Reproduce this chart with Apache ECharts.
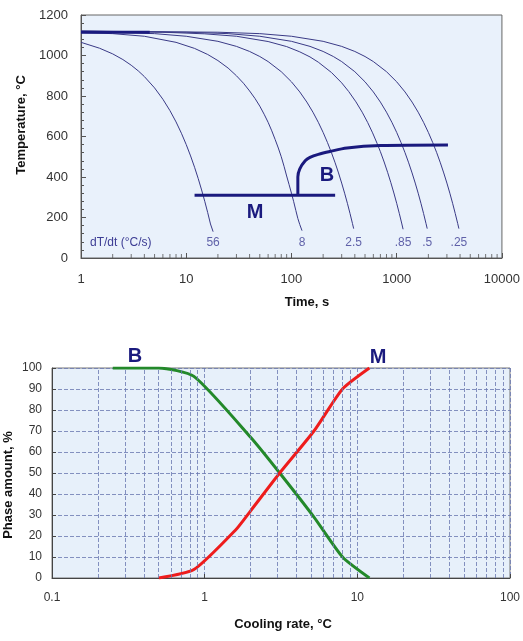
<!DOCTYPE html>
<html>
<head>
<meta charset="utf-8">
<script src="https://cdn.jsdelivr.net/npm/echarts@6/dist/echarts.min.js"></script>
<style>
html, body { margin: 0; padding: 0; background: #fff; }
#main { width: 523px; height: 641px; }
</style>
</head>
<body>
<div id="main"></div>
<script>
// top chart: cooling curves [time s, temperature C]
const curve56 = [[1,1065],[1.5,1036],[2,1008],[2.5,980],[3,952],[3.5,924],[4,896],[5,840],[6,784],[7,728],[8,672],[9,616],[10,560],[11,504],[12,448],[13,392],[14,336],[15,280],[16,224],[17,168],[18,130]];
const curve8 = [[1,1113],[2,1108],[4,1095],[8,1065],[12,1035],[16,1005],[20,975],[25,938],[30,900],[35,863],[40,825],[45,788],[50,750],[55,710],[60,670],[65,628],[70,585],[75,543],[80,500],[85,453],[90,405],[95,362],[100,320],[105,278],[110,235],[115,195],[120,165],[126,135]];
const curve2_5 = [[1,1118],[2,1115],[5,1108],[10,1095],[20,1070],[30,1045],[40,1020],[50,995],[60,970],[80,920],[100,870],[120,820],[140,770],[160,720],[180,670],[200,620],[220,570],[240,520],[260,470],[280,420],[300,370],[320,320],[340,270],[360,220],[380,170],[390,145]];
const curve085 = [[1,1120],[6,1115],[15,1107],[30,1095],[60,1069],[90,1044],[120,1018],[150,993],[180,967],[240,916],[300,865],[350,822],[410,771],[470,720],[530,669],[590,618],[650,567],[700,525],[760,474],[820,423],[880,372],[940,321],[1000,270],[1060,219],[1120,168],[1150,142]];
const curve05 = [[1,1120],[10,1115],[25,1108],[50,1095],[100,1070],[150,1045],[200,1020],[250,995],[300,970],[400,920],[500,870],[600,820],[700,770],[800,720],[900,670],[1000,620],[1100,570],[1200,520],[1300,470],[1400,420],[1500,370],[1600,320],[1700,270],[1800,220],[1900,170],[1950,145]];
const curve025 = [[1,1120],[20,1115],[50,1108],[100,1095],[200,1070],[300,1045],[400,1020],[500,995],[600,970],[800,920],[1000,870],[1200,820],[1400,770],[1600,720],[1800,670],[2000,620],[2200,570],[2400,520],[2600,470],[2800,420],[3000,370],[3200,320],[3400,270],[3600,220],[3800,170],[3900,145]];
const rateNames = ['56', '8', '2.5', '.85', '.5', '.25'];
const austLine = [[1,1115],[4.5,1115]];
const mStart = [[12,310],[260,310]];
const bStart = [[115,310],[115,400],[120,440],[135,480],[150,497],[180,512],[232,526],[337,543],[700,555],[3070,558]];
const minorTimes = [2,3,4,5,6,7,8,9,20,30,40,50,60,70,80,90,200,300,400,500,600,700,800,900,2000,3000,4000,5000,6000,7000,8000,9000];

// bottom chart: phase amount vs cooling rate
const bRate = [0.25, 0.5, 0.85, 2.0, 3.1, 5.2, 8, 12];
const bPct = [100, 100, 96, 67, 50, 29, 10, 0];
const mRate = [0.5, 0.85, 1.6, 2.0, 3.1, 5.2, 8, 12];
const mPct = [0, 4, 23, 32, 50, 70, 90, 100];
const minorRates = [0.2,0.3,0.4,0.5,0.6,0.7,0.8,0.9,2,3,4,5,6,7,8,9,20,30,40,50,60,70,80,90];

const font = 'Liberation Sans, Arial, sans-serif';
const navy = '#1a1a7e';
const thin = '#3a3a86';
const gridDash = '#6a78b0';
const plain = function (v) { return String(v); };

const curves = [curve56, curve8, curve2_5, curve085, curve05, curve025];

const series = [];
curves.forEach(function (c, i) {
    series.push({
        name: rateNames[i], type: 'line', xAxisIndex: 0, yAxisIndex: 0,
        data: c, showSymbol: false,
        lineStyle: { color: thin, width: 1 }
    });
});
[austLine, mStart, bStart].forEach(function (c) {
    series.push({
        type: 'line', xAxisIndex: 0, yAxisIndex: 0, data: c,
        showSymbol: false, smooth: 0.3,
        lineStyle: { color: navy, width: 3 }
    });
});
// rate labels under each curve end
series.push({
    type: 'scatter', xAxisIndex: 0, yAxisIndex: 0, symbolSize: 0,
    data: curves.map(function (c, i) { return { value: [c[c.length - 1][0], 75], name: rateNames[i] }; }),
    label: { show: true, position: 'inside', formatter: '{b}', color: '#3c3c94', fontSize: 12, fontFamily: font }
});
// minor ticks on the log time axis
series.push({
    type: 'scatter', xAxisIndex: 0, yAxisIndex: 0, symbol: 'rect',
    symbolSize: [1, 4], symbolOffset: [0, -2],
    itemStyle: { color: '#555' },
    data: minorTimes.map(function (t) { return [t, 0]; })
});
// dashed minor grid lines of the bottom chart
series.push({
    type: 'line', xAxisIndex: 1, yAxisIndex: 1, data: [],
    markLine: {
        silent: true, symbol: 'none', label: { show: false },
        lineStyle: { type: 'dashed', color: gridDash, width: 1, opacity: 0.8 },
        data: minorRates.map(function (r) { return { xAxis: r }; })
    }
});
series.push({
    name: 'B', type: 'line', xAxisIndex: 1, yAxisIndex: 1,
    data: bRate.map(function (r, i) { return [r, bPct[i]]; }),
    showSymbol: false, smooth: 0.2,
    lineStyle: { color: '#23892a', width: 3 }
});
series.push({
    name: 'M', type: 'line', xAxisIndex: 1, yAxisIndex: 1,
    data: mRate.map(function (r, i) { return [r, mPct[i]]; }),
    showSymbol: false, smooth: 0.2,
    lineStyle: { color: '#ee1c1c', width: 3 }
});

const titleStyle = { fontSize: 13, fontWeight: 'bold', fontFamily: font, fill: '#111', align: 'center', verticalAlign: 'middle' };
const bigStyle = { fontSize: 20, fontWeight: 'bold', fontFamily: font, fill: navy, align: 'center', verticalAlign: 'middle' };

const option = {
    animation: false,
    backgroundColor: '#fff',
    grid: [
        { left: 81, top: 15, width: 421, height: 243, show: true, backgroundColor: '#e9f1fb', borderColor: '#666', borderWidth: 1 },
        { left: 52, top: 368, width: 464, height: 210, show: true, backgroundColor: '#e7f0fa', borderColor: '#777', borderWidth: 1 }
    ],
    xAxis: [
        {
            gridIndex: 0, type: 'log', logBase: 10, min: 1, max: 10000,
            axisLine: { lineStyle: { color: '#555' } },
            axisTick: { inside: true, length: 5, lineStyle: { color: '#555' } },
            axisLabel: { color: '#333', fontSize: 13, margin: 15, fontFamily: font, formatter: plain },
            splitLine: { show: false }
        },
        {
            gridIndex: 1, type: 'log', logBase: 10, min: 0.1, max: 100,
            axisLine: { lineStyle: { color: '#444' } },
            axisTick: { inside: true, length: 4, lineStyle: { color: '#444' } },
            axisLabel: { color: '#333', fontSize: 12, margin: 14, fontFamily: font, formatter: plain },
            splitLine: { show: true, lineStyle: { type: 'dashed', color: gridDash, width: 1, opacity: 0.8 } }
        }
    ],
    yAxis: [
        {
            gridIndex: 0, type: 'value', min: 0, max: 1200, interval: 200,
            axisLine: { show: true, lineStyle: { color: '#555' } },
            axisTick: { show: true, inside: true, length: 5, lineStyle: { color: '#555' } },
            minorTick: { show: true, splitNumber: 5, length: 3, lineStyle: { color: '#555' } },
            axisLabel: { color: '#333', fontSize: 13, margin: 13, fontFamily: font, formatter: plain },
            splitLine: { show: false }
        },
        {
            gridIndex: 1, type: 'value', min: 0, max: 100, interval: 10,
            axisLine: { show: true, lineStyle: { color: '#444' } },
            axisTick: { show: true, inside: true, length: 4, lineStyle: { color: '#444' } },
            axisLabel: { color: '#333', fontSize: 12, margin: 10, fontFamily: font, formatter: plain },
            splitLine: { show: true, lineStyle: { type: 'dashed', color: gridDash, width: 1, opacity: 0.8 } }
        }
    ],
    graphic: [
        { type: 'text', x: 21, y: 125, rotation: Math.PI / 2, style: Object.assign({ text: 'Temperature, °C' }, titleStyle) },
        { type: 'text', x: 307, y: 302, style: Object.assign({ text: 'Time, s' }, titleStyle) },
        { type: 'text', x: 8, y: 485, rotation: Math.PI / 2, style: Object.assign({ text: 'Phase amount, %' }, titleStyle) },
        { type: 'text', x: 283, y: 624, style: Object.assign({ text: 'Cooling rate, °C' }, titleStyle) },
        { type: 'text', x: 90, y: 243, style: { text: 'dT/dt (°C/s)', fontSize: 12, fontFamily: font, fill: '#3c3c94', verticalAlign: 'middle' } },
        { type: 'text', x: 255, y: 212, style: Object.assign({ text: 'M' }, bigStyle) },
        { type: 'text', x: 327, y: 175, style: Object.assign({ text: 'B' }, bigStyle) },
        { type: 'text', x: 135, y: 356, style: Object.assign({ text: 'B' }, bigStyle) },
        { type: 'text', x: 378, y: 357, style: Object.assign({ text: 'M' }, bigStyle) }
    ],
    series: series
};

const chart = echarts.init(document.getElementById('main'));
chart.setOption(option);
</script>
</body>
</html>
